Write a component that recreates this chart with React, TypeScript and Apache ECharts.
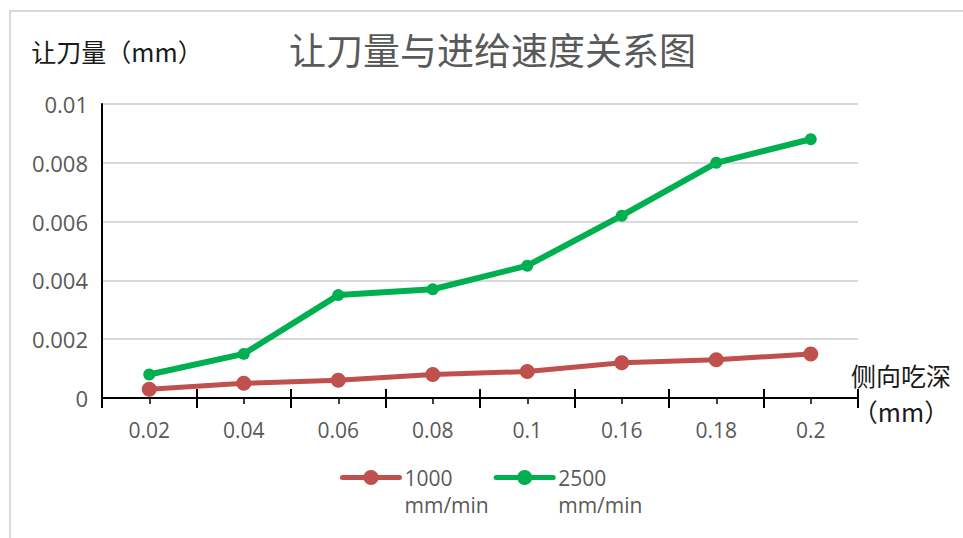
import React, { useEffect, useRef } from "react";
import * as echarts from "echarts";

const categories = ["0.02", "0.04", "0.06", "0.08", "0.1", "0.16", "0.18", "0.2"];
const series1000 = [0.0003, 0.0005, 0.0006, 0.0008, 0.0009, 0.0012, 0.0013, 0.0015];
const series2500 = [0.0008, 0.0015, 0.0035, 0.0037, 0.0045, 0.0062, 0.008, 0.0088];
const seriesNames = ["1000\nmm/min", "2500\nmm/min"];
const titleText = "让刀量与进给速度关系图";
const yName = "让刀量（mm）";
const xNameLines = ["侧向吃深", "（mm）"];

const LATIN = "'Open Sans', 'Noto Sans', sans-serif";
const CJK = "'Noto Sans CJK SC', 'Noto Sans', sans-serif";

export default function App() {
  const ref = useRef<HTMLDivElement>(null);
  useEffect(() => {
    if (!ref.current) return;
    const chart = echarts.init(ref.current, null, { renderer: "svg" });
    const baseX = {
      type: "category" as const,
      data: categories,
      position: "bottom" as const,
      boundaryGap: true,
    };
    chart.setOption({
      animation: false,
      backgroundColor: "#ffffff",
      title: {
        text: titleText,
        left: 289,
        top: 30,
        padding: 0,
        textStyle: {
          fontFamily: CJK,
          fontSize: 37,
          fontWeight: "normal",
          color: "#595959",
        },
      },
      graphic: [
        {
          type: "rect",
          shape: { x: 10, y: 11, width: 1000, height: 600 },
          style: { fill: "none", stroke: "#d9d9d9", lineWidth: 2 },
          silent: true,
        },
      ],
      legend: {
        left: 340,
        top: 437,
        padding: 0,
        itemWidth: 57,
        itemHeight: 19,
        itemGap: 5,
        lineStyle: { width: 5, cap: "round" },
        formatter: (name: string) => "\n" + name,
        textStyle: {
          fontFamily: LATIN,
          fontSize: 21,
          color: "#595959",
          lineHeight: 27,
        },
        data: seriesNames,
      },
      grid: { left: 102, right: 105, top: 104, bottom: 140 },
      xAxis: [
        {
          ...baseX,
          name: "{a|" + xNameLines[0] + "}\n{b|" + xNameLines[1] + "}",
          nameLocation: "end",
          nameGap: 43,
          nameTextStyle: {
            fontFamily: CJK,
            fontSize: 25,
            color: "#1a1a1a",
            align: "center",
            verticalAlign: "middle",
            rich: {
              a: { fontFamily: CJK, fontSize: 25, color: "#1a1a1a", lineHeight: 26, align: "center" },
              b: { fontFamily: CJK, fontSize: 25, color: "#1a1a1a", lineHeight: 46, align: "center" },
            },
          },
          axisLine: { show: true, lineStyle: { color: "#000000", width: 2 } },
          axisTick: { show: true, interval: 0, length: 10, inside: false, lineStyle: { color: "#000000", width: 2 } },
          axisLabel: {
            interval: 0,
            margin: 21,
            fontFamily: LATIN,
            fontSize: 21,
            color: "#595959",
          },
          splitLine: { show: false },
        },
        {
          ...baseX,
          axisLine: { show: false },
          axisTick: { show: true, interval: 0, length: 9, inside: true, lineStyle: { color: "#000000", width: 2 } },
          axisLabel: { show: false },
          splitLine: { show: false },
        },
        {
          ...baseX,
          axisLine: { show: false },
          axisTick: { show: true, interval: 0, alignWithLabel: true, length: 6, inside: false, lineStyle: { color: "#000000", width: 1.5 } },
          axisLabel: { show: false },
          splitLine: { show: false },
        },
      ],
      yAxis: {
        type: "value",
        min: 0,
        max: 0.01,
        interval: 0.002,
        name: yName,
        nameLocation: "end",
        nameGap: 41,
        nameTextStyle: {
          fontFamily: CJK,
          fontSize: 25,
          color: "#1a1a1a",
          align: "center",
          padding: [0, 0, 0, 30],
        },
        axisLine: { show: true, lineStyle: { color: "#000000", width: 2 } },
        axisTick: { show: false },
        axisLabel: {
          margin: 14,
          fontFamily: LATIN,
          fontSize: 22,
          color: "#595959",
          formatter: (v: number) => String(+v.toFixed(4)),
        },
        splitLine: { show: true, lineStyle: { color: "#d9d9d9", width: 2 } },
      },
      series: [
        {
          name: seriesNames[0],
          type: "line",
          xAxisIndex: 0,
          data: series1000,
          symbol: "circle",
          symbolSize: 15,
          lineStyle: { color: "#C0504D", width: 5 },
          itemStyle: { color: "#C0504D" },
          z: 3,
        },
        {
          name: seriesNames[1],
          type: "line",
          xAxisIndex: 0,
          data: series2500,
          symbol: "circle",
          symbolSize: 12,
          lineStyle: { color: "#00B050", width: 6 },
          itemStyle: { color: "#00B050" },
          z: 3,
        },
      ],
    });
    return () => chart.dispose();
  }, []);
  return (
    <div
      ref={ref}
      style={{ position: "fixed", left: 0, top: 0, width: 963, height: 538, background: "#fff" }}
    />
  );
}
